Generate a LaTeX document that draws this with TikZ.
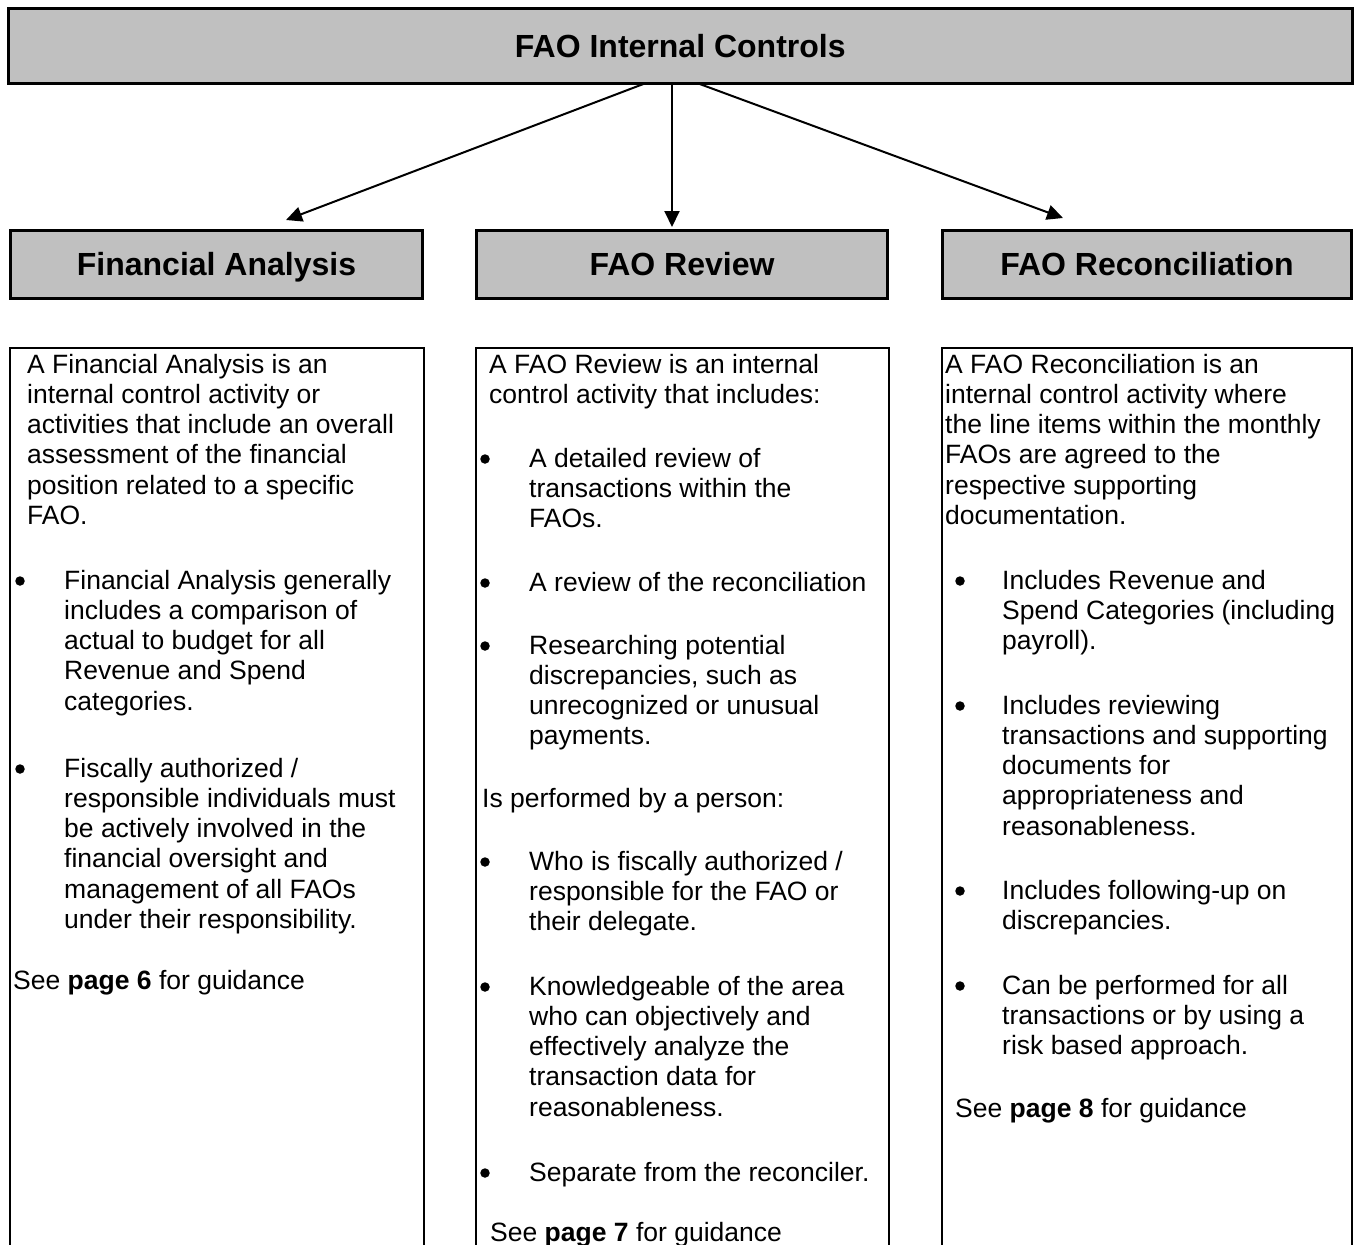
\documentclass[tikz,border=0pt]{standalone}
\usepackage{fontspec}
\setmainfont{Liberation Sans}
\usetikzlibrary{arrows.meta}
\definecolor{boxgray}{RGB}{192,192,192}
% a block of explicitly broken lines; its baseline is that of the first line
\newcommand{\lineblock}[1]{\parbox[t]{420pt}{\raggedright #1}}
\begin{document}
\begin{tikzpicture}[x=1pt,y=-1pt,
  hdr/.style={draw, line width=3pt, fill=boxgray, inner sep=0pt, outer sep=0pt,
    font=\bfseries\fontsize{32}{38}\selectfont, text height=23pt, text depth=0pt},
  column/.style={draw, line width=2pt, anchor=north west, inner sep=0pt, outer sep=0pt,
    minimum height=960pt},
  body/.style={anchor=base west, inner sep=0pt, font=\fontsize{26.5}{30.3}\selectfont},
  dot/.style={circle, fill=black, inner sep=0pt, minimum size=9.5pt},
  link/.style={line width=2pt, -{Triangle[length=16pt,width=15pt]}}]

\useasboundingbox (0,0) rectangle (1355,1245);

% headings
\node[hdr, minimum width=1343.5pt, minimum height=75pt] (ctl) at (680.25,45.5) {FAO Internal Controls};
\node[hdr, minimum width=412pt, minimum height=67.5pt] (fa)  at (216.5,264.25) {Financial Analysis};
\node[hdr, minimum width=411pt, minimum height=67.5pt] (rev) at (682,264.25) {FAO Review};
\node[hdr, minimum width=409pt, minimum height=67.5pt] (rec) at (1147,264.25) {FAO Reconciliation};

% connectors
\draw[link] ([xshift=-34.25pt]ctl.south) -- ([xshift=69.5pt,yshift=10.5pt]fa.north);
\draw[link] ([xshift=-8.25pt]ctl.south) -- ([xshift=-10pt,yshift=3.5pt]rev.north);
\draw[link] ([xshift=16.75pt]ctl.south) -- ([xshift=-84pt,yshift=12.5pt]rec.north);

% description columns (they run on past the lower edge)
\node[column, minimum width=413.5pt] (colA) at (10,347.5) {};
\node[column, minimum width=413pt]   (colB) at (475.5,347.5) {};
\node[column, minimum width=410.5pt] (colC) at (941.5,347.5) {};

% --- Financial Analysis
\node[body] (a0) at (27,373) {\lineblock{A Financial Analysis is an\\internal control activity or\\activities that include an overall\\assessment of the financial\\position related to a specific\\FAO.}};
\node[dot] (ad1) at (20,581) {};
\node[body] (a1) at (64,589) {\lineblock{Financial Analysis generally\\includes a comparison of\\actual to budget for all\\Revenue and Spend\\categories.}};
\node[dot] (ad2) at (20,769) {};
\node[body] (a2) at (64,777) {\lineblock{Fiscally authorized /\\responsible individuals must\\be actively involved in the\\financial oversight and\\management of all FAOs\\under their responsibility.}};
\node[body] (a3) at (13,989) {See \textbf{page 6} for guidance};

% --- FAO Review
\node[body] (b0) at (489,373) {\lineblock{A FAO Review is an internal\\control activity that includes:}};
\node[dot] (bd1) at (485,459) {};
\node[body] (b1) at (529,467) {\lineblock{A detailed review of\\transactions within the\\FAOs.}};
\node[dot] (bd2) at (485,583) {};
\node[body] (b2) at (529,591) {A review of the reconciliation};
\node[dot] (bd3) at (485,646) {};
\node[body] (b3) at (529,654) {\lineblock{Researching potential\\discrepancies, such as\\unrecognized or unusual\\payments.}};
\node[body] (b4) at (482,807) {Is performed by a person:};
\node[dot] (bd5) at (485,862) {};
\node[body] (b5) at (529,870) {\lineblock{Who is fiscally authorized /\\responsible for the FAO or\\their delegate.}};
\node[dot] (bd6) at (485,987) {};
\node[body] (b6) at (529,995) {\lineblock{Knowledgeable of the area\\who can objectively and\\effectively analyze the\\transaction data for\\reasonableness.}};
\node[dot] (bd7) at (485,1173) {};
\node[body] (b7) at (529,1181) {Separate from the reconciler.};
\node[body] (b8) at (490,1241) {See \textbf{page 7} for guidance};

% --- FAO Reconciliation
\node[body] (c0) at (945,373) {\lineblock{A FAO Reconciliation is an\\internal control activity where\\the line items within the monthly\\FAOs are agreed to the\\respective supporting\\documentation.}};
\node[dot] (cd1) at (960,581) {};
\node[body] (c1) at (1002,589) {\lineblock{Includes Revenue and\\Spend Categories (including\\payroll).}};
\node[dot] (cd2) at (960,706) {};
\node[body] (c2) at (1002,714) {\lineblock{Includes reviewing\\transactions and supporting\\documents for\\appropriateness and\\reasonableness.}};
\node[dot] (cd3) at (960,891) {};
\node[body] (c3) at (1002,899) {\lineblock{Includes following-up on\\discrepancies.}};
\node[dot] (cd4) at (960,986) {};
\node[body] (c4) at (1002,994) {\lineblock{Can be performed for all\\transactions or by using a\\risk based approach.}};
\node[body] (c5) at (955,1117) {See \textbf{page 8} for guidance};

\end{tikzpicture}
\end{document}
